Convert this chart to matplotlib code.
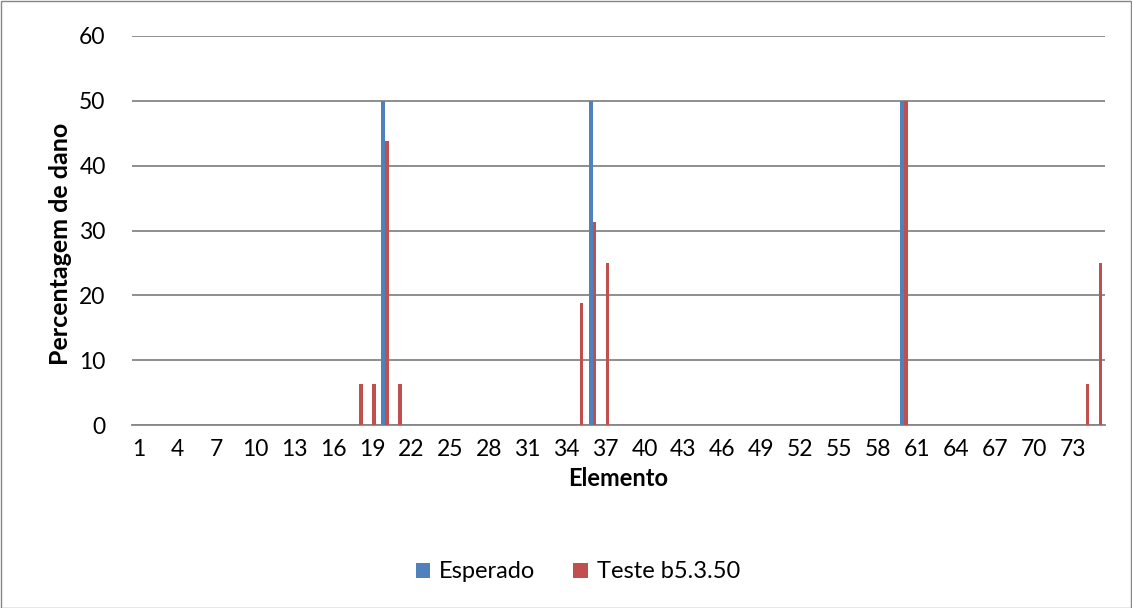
import numpy as np
import matplotlib.pyplot as plt

elementos = list(range(1, 76))
esperado_idx = [20, 36, 60]
esperado_val = [50, 50, 50]
teste_idx = [18, 19, 20, 21, 35, 36, 37, 60, 74, 75]
teste_val = [6.25, 6.25, 43.75, 6.25, 18.75, 31.25, 25, 50, 6.25, 25]

esperado = np.zeros(len(elementos))
teste = np.zeros(len(elementos))
for i, v in zip(esperado_idx, esperado_val):
    esperado[i - 1] = v
for i, v in zip(teste_idx, teste_val):
    teste[i - 1] = v

plt.rcParams['font.family'] = ['Lato', 'DejaVu Sans']

W, H = 1132, 608
fig = plt.figure(figsize=(W / 100, H / 100), dpi=100)
ax = fig.add_axes([132 / W, 1 - 425 / H, (1105 - 132) / W, (425 - 36) / H])

x = np.arange(len(elementos))
w = 1 / 3.5
ax.bar(x - w / 2, esperado, w, color='#4F81BD', label='Esperado', zorder=3)
ax.bar(x + w / 2, teste, w, color='#C0504D', label='Teste b5.3.50', zorder=3)

ax.set_xlim(-0.5, len(elementos) - 0.5)
ax.set_ylim(0, 60)
ax.set_yticks(range(0, 61, 10))
ax.set_xticks(x[::3])
ax.set_xticklabels([str(e) for e in elementos[::3]])
ax.tick_params(axis='both', length=0, labelsize=16.5, colors='black')
ax.tick_params(axis='x', pad=10)
ax.tick_params(axis='y', pad=19)
ax.yaxis.grid(True, color='#868686', linewidth=1.3, zorder=0)
for s in ['top', 'right', 'left']:
    ax.spines[s].set_visible(False)
ax.spines['bottom'].set_color('#868686')
ax.spines['bottom'].set_linewidth(1.3)

fig.text(618 / W, 1 - 478 / H, 'Elemento', fontsize=17, fontweight='bold', ha='center', va='center')
fig.text(60 / W, 1 - 244 / H, 'Percentagem de dano', fontsize=18, fontweight='bold',
         ha='center', va='center', rotation=90)

fig.legend(loc='center', bbox_to_anchor=(578 / W, 1 - 572 / H), ncol=2, frameon=False,
           fontsize=17, handlelength=0.6, handleheight=0.6, handletextpad=0.4, columnspacing=1.6)

border = plt.Rectangle((0.5 / W, 0.5 / H), 1 - 1.5 / W, 1 - 1.5 / H, transform=fig.transFigure,
                       fill=False, edgecolor='#868686', linewidth=1)
fig.patches.append(border)

fig.savefig('out.png', dpi=100)
